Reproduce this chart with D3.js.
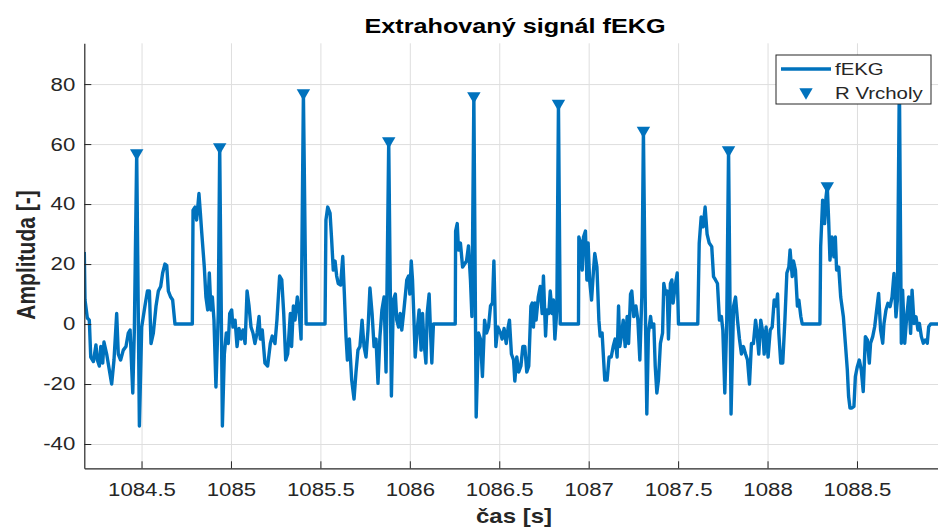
<!DOCTYPE html>
<html>
<head>
<meta charset="utf-8">
<script src="https://cdn.jsdelivr.net/npm/d3@7"></script>
<style>
    body { margin: 0; background: #fff; }
    svg { display: block; font-family: "Liberation Sans", Arial, sans-serif; }
</style>
</head>
<body>
<svg id="chart"></svg>
<script>
'use strict';

// signal: time [s] and amplitude
var sigT = [
    1084.180, 1084.184, 1084.197, 1084.208, 1084.216, 1084.231, 1084.245, 1084.253, 1084.264, 1084.272,
    1084.283, 1084.290, 1084.305, 1084.333, 1084.346, 1084.361, 1084.370, 1084.383, 1084.398, 1084.413,
    1084.426, 1084.436, 1084.451, 1084.460, 1084.473, 1084.488, 1084.501, 1084.519, 1084.533, 1084.544,
    1084.553, 1084.566, 1084.581, 1084.594, 1084.607, 1084.618, 1084.631, 1084.641, 1084.650, 1084.663,
    1084.674, 1084.687, 1084.784,
    1084.788, 1084.799, 1084.808, 1084.821, 1084.829, 1084.836, 1084.851, 1084.860, 1084.870, 1084.879,
    1084.888, 1084.896, 1084.905, 1084.916, 1084.929, 1084.937, 1084.952, 1084.963, 1084.974, 1084.985,
    1084.993, 1085.004, 1085.011, 1085.023, 1085.034, 1085.045, 1085.056, 1085.067, 1085.079, 1085.090,
    1085.101, 1085.112, 1085.123, 1085.134, 1085.146, 1085.157, 1085.164, 1085.175, 1085.190, 1085.205,
    1085.220, 1085.231, 1085.246, 1085.257, 1085.272, 1085.284, 1085.295, 1085.306, 1085.317, 1085.332,
    1085.339, 1085.349, 1085.358, 1085.371, 1085.382, 1085.392, 1085.405, 1085.420, 1085.526, 1085.531,
    1085.541, 1085.554, 1085.563, 1085.572, 1085.582, 1085.591, 1085.600, 1085.613, 1085.625, 1085.634,
    1085.643, 1085.651, 1085.662, 1085.675, 1085.688, 1085.699, 1085.710, 1085.721, 1085.733, 1085.744,
    1085.755, 1085.766, 1085.777, 1085.789, 1085.800, 1085.811, 1085.822, 1085.833, 1085.844, 1085.856,
    1085.867, 1085.882, 1085.897, 1085.908, 1085.919,
    1085.927, 1085.937, 1085.946, 1085.955, 1085.965, 1085.974, 1085.983, 1085.993, 1086.000, 1086.008,
    1086.015, 1086.022, 1086.030, 1086.041, 1086.052, 1086.063, 1086.071, 1086.078, 1086.090, 1086.097,
    1086.108, 1086.116, 1086.123, 1086.132, 1086.254, 1086.256, 1086.265, 1086.272, 1086.283, 1086.295,
    1086.306, 1086.317, 1086.328, 1086.339, 1086.347, 1086.358, 1086.371, 1086.384, 1086.395, 1086.406,
    1086.418, 1086.429, 1086.440, 1086.451, 1086.462, 1086.470, 1086.481, 1086.492, 1086.507,
    1086.516, 1086.527, 1086.539, 1086.550, 1086.557, 1086.568, 1086.580, 1086.587, 1086.598, 1086.609,
    1086.621, 1086.632, 1086.643, 1086.654, 1086.665, 1086.677, 1086.684, 1086.691, 1086.699, 1086.706,
    1086.718, 1086.729, 1086.740, 1086.747, 1086.759, 1086.766, 1086.777, 1086.785, 1086.796, 1086.803,
    1086.811, 1086.822, 1086.831, 1086.841, 1086.943, 1086.945, 1086.956, 1086.964, 1086.971, 1086.982,
    1086.990, 1086.997, 1087.005, 1087.016, 1087.027, 1087.034, 1087.046, 1087.057, 1087.064, 1087.075,
    1087.090,
    1087.103, 1087.114, 1087.126, 1087.137, 1087.148, 1087.159, 1087.167, 1087.174, 1087.185, 1087.193,
    1087.204, 1087.215, 1087.223, 1087.234, 1087.241, 1087.252, 1087.264, 1087.275, 1087.286, 1087.297,
    1087.306, 1087.316, 1087.325, 1087.334, 1087.346, 1087.353, 1087.364, 1087.372, 1087.381, 1087.390,
    1087.401, 1087.413, 1087.420, 1087.431, 1087.439, 1087.446, 1087.457, 1087.465, 1087.472, 1087.483,
    1087.495, 1087.502, 1087.610, 1087.618, 1087.629, 1087.640, 1087.651, 1087.662, 1087.674,
    1087.688, 1087.698, 1087.709, 1087.720, 1087.731, 1087.742, 1087.750, 1087.761, 1087.772, 1087.782,
    1087.796, 1087.810, 1087.821, 1087.832, 1087.843, 1087.854, 1087.865, 1087.877, 1087.888, 1087.899,
    1087.910, 1087.921, 1087.933, 1087.940, 1087.951, 1087.962, 1087.974, 1087.981, 1087.992, 1088.003,
    1088.015, 1088.026, 1088.037, 1088.048, 1088.056, 1088.063, 1088.074, 1088.085, 1088.097, 1088.108,
    1088.119, 1088.126, 1088.138, 1088.145, 1088.156, 1088.167, 1088.175, 1088.186, 1088.194, 1088.293,
    1088.297, 1088.308, 1088.319, 1088.327, 1088.334, 1088.342, 1088.349, 1088.360, 1088.371, 1088.379,
    1088.386, 1088.398, 1088.409, 1088.424, 1088.435, 1088.446, 1088.453, 1088.461, 1088.472, 1088.483,
    1088.491, 1088.502, 1088.513, 1088.524, 1088.535, 1088.547, 1088.558, 1088.569, 1088.576, 1088.588,
    1088.599, 1088.610, 1088.621, 1088.632, 1088.644, 1088.651, 1088.662, 1088.673, 1088.685, 1088.696,
    1088.707, 1088.718, 1088.726, 1088.737, 1088.748, 1088.755, 1088.767, 1088.778, 1088.789, 1088.800,
    1088.808, 1088.819, 1088.830, 1088.841, 1088.849, 1088.860, 1088.871, 1088.882, 1088.893, 1088.901,
    1088.912, 1088.960
];
var sigV = [
    24, 8, 2, 1.3, -11, -12.5, -7, -12, -14, -7.5,
    -13, -6, -10, -20, -12, 3.5, -10, -12, -8.7, -7.5,
    -3, -2, -23, -1.5, 57, -34, -1, 6, 11, 11,
    -6.5, -3, 6, 11, 12.5, 17, 20, 19.5, 11, 9,
    8, 0, 0,
    38, 39, 34.7, 43.5, 37, 31, 19, 9, 4.7, 17,
    4.7, 9, 1.3, -21, 3.5, 59, -34, -10, -3, -6.5,
    3.5, 4.7, -1, 1.3, -7.5, -1.5, -5, -2, -6.5, 11,
    6, -1, -3, -6.5, -3, 2.5, -5, -2, -13, -14,
    -6.5, -4, -6.5, 1.3, 16, 14.7, 3.5, -12, -10, 3.5,
    -7.5, 6, 1.3, 9, 3.5, -5, 77, 0, 0, 34.7,
    39, 37, 28, 18, 21, 16, 13.5, 13, 22.5, 10,
    -4, -12, -5, -18.7, -25, -16, -8.7, -7.5, 1.3, -7.5,
    -11, -2, 12, 3.5, -7.5, -5, -19.8, -4, 4.7, 9,
    -16, 61, -24, 8, 10,
    1.3, -1, 3.5, -2, 3.5, 9, 14.7, 16, 10, 21,
    14.7, 3.5, -11, -2, 4.7, -8.7, 3.5, -5, -13, 3.5,
    10, -3, -13, 0, 0, 31, 33.5, 24.7, 27, 19,
    20, 21, 26, 14.7, 2.5, 76, -31, -3, -5, -17.5,
    1.3, -3, -1, 6, 7, 21, -7.5, -1, -3,
    -5, -1.5, -6.5, -1, 1.3, -10, -12, -19, -11, -16,
    -14, -7.5, -7.5, -16, -14, 6, 7, -1, 7, 1.3,
    9, 12.5, 3.5, 16, -4, 4.7, 3.5, 11, 3.5, 8,
    -5, 4.7, 73.5, 0, 0, 29, 27, 18, 29, 31,
    14.7, 27, 14.7, 8, 18, 23.5, 19, 1.3, -4, -3,
    -18.7,
    -18.7, -11, -11, -7.5, -5, -11, 6, -7.5, -3, 1.3,
    -7.5, 2.5, -6.5, 10, 11, 2.5, 6, 1.3, -12, 9,
    64.5, 9, -30, -3, 2.5, -1, 0, -14, -23, -18.7,
    -6.5, -3, 13.5, 10, 11, -5, 13.5, 14.7, 7, 12.5,
    17, 0, 0, 27, 35.7, 32.4, 39, 30, 27,
    25.8, 15.8, 14.7, 13.5, 1.3, 2.5, -2, -23, 1.3, 58,
    -30, 6, 9, 1.3, -5, -10, -7.5, -10, -12, -20,
    -6.5, -6.5, 1.3, -2, -10, 1.3, -3, -10, -1, -11,
    -2, -1, 8, 6, 10, -3, -13, -13, 1.3, 17,
    19, 24.7, 15.8, 21, 18, 6, 8, 2.5, 0, 0,
    25.8, 41.3, 33.5, 42.4, 46, 34, 21.3, 29, 22.4, 29,
    18, 19, 9, 2.4, -6.4, -15.3, -24, -28, -28, -27.5,
    -17.5, -14.2, -12, -15.3, -22.5, -4.2, -5.3, -13, -6.4, -4.2,
    -0.9, 4.7, 10.2, -2, -6.4, 0.2, 4.7, 6.9, 5.8, 9,
    16.9, 2.4, 8, 82, -6.4, 11.3, -6.4, 2.4, 9, -3.1,
    11.3, 0.2, 2.4, -2, 0.2, -4.2, -6.4, -5.3, -6.4, -0.9,
    0, 0
];

// detected R peaks
var peakT = [1084.473, 1084.937, 1085.405, 1085.882, 1086.358, 1086.831, 1087.306, 1087.782, 1088.334];
var peakV = [57, 59, 77, 61, 76, 73.5, 64.5, 58, 46];

var xTicks = [1084.5, 1085, 1085.5, 1086, 1086.5, 1087, 1087.5, 1088, 1088.5];
var xTickLabels = ['1084.5', '1085', '1085.5', '1086', '1086.5', '1087', '1087.5', '1088', '1088.5'];
var yTicks = [-40, -20, 0, 20, 40, 60, 80];
var yTickLabels = ['-40', '-20', '0', '20', '40', '60', '80'];
var seriesNames = ['fEKG', 'R Vrcholy'];

(function () {

    var width = 938;
    var height = 529;
    var left = 84.3, right = 938, top = 43.3, bottom = 468.3;
    var stretch = 1.2;             // picture is a bit wider than tall
    var blue = '#0072bd';
    var ink = '#262626';

    var svg = d3.select('#chart')
        .attr('width', width)
        .attr('height', height);

    var x = d3.scaleLinear().domain([1084.18, 1088.953]).range([left, right]);
    var y = d3.scaleLinear().domain([-48.1, 93.6]).range([bottom, top]);

    svg.append('defs').append('clipPath')
        .attr('id', 'plotClip')
        .append('rect')
        .attr('x', left).attr('y', top)
        .attr('width', right - left).attr('height', bottom - top);

    // grid
    svg.append('g')
        .attr('transform', 'translate(0,' + bottom + ')')
        .call(d3.axisBottom(x).tickValues(xTicks).tickSize(-(bottom - top)).tickFormat(''))
        .call(function (g) {
            g.select('.domain').remove();
            g.selectAll('line').attr('stroke', '#dedede').attr('stroke-width', 1);
        });

    svg.append('g')
        .attr('transform', 'translate(' + left + ',0)')
        .call(d3.axisLeft(y).tickValues(yTicks).tickSize(-(right - left)).tickFormat(''))
        .call(function (g) {
            g.select('.domain').remove();
            g.selectAll('line').attr('stroke', '#dedede').attr('stroke-width', 1);
        });

    // signal
    var points = sigT.map(function (t, i) { return [t, sigV[i]]; });

    var line = d3.line()
        .x(function (d) { return x(d[0]); })
        .y(function (d) { return y(d[1]); });

    svg.append('path')
        .datum(points)
        .attr('clip-path', 'url(#plotClip)')
        .attr('fill', 'none')
        .attr('stroke', blue)
        .attr('stroke-width', 3.4)
        .attr('stroke-linejoin', 'round')
        .attr('d', line);

    // peak markers
    var tri = d3.symbol().type(d3.symbolTriangle).size(78);

    svg.append('g').selectAll('path')
        .data(peakT)
        .enter()
        .append('path')
        .attr('d', tri)
        .attr('fill', blue)
        .attr('transform', function (d, i) {
            return 'translate(' + x(d) + ',' + y(peakV[i]) + ') rotate(180)';
        });

    // axes
    var xAxis = svg.append('g')
        .attr('transform', 'translate(0,' + bottom + ')')
        .call(d3.axisBottom(x).tickValues(xTicks).tickSizeInner(-7).tickSizeOuter(0)
            .tickFormat(function (d, i) { return xTickLabels[i]; }));

    var yAxis = svg.append('g')
        .attr('transform', 'translate(' + left + ',0)')
        .call(d3.axisLeft(y).tickValues(yTicks).tickSizeInner(-7).tickSizeOuter(0)
            .tickFormat(function (d, i) { return yTickLabels[i]; }));

    [xAxis, yAxis].forEach(function (g) {
        g.select('.domain').attr('stroke', ink).attr('stroke-width', 1.2);
        g.selectAll('.tick line').attr('stroke', ink).attr('stroke-width', 1);
        g.selectAll('.tick text')
            .attr('fill', ink)
            .style('font-family', '"Liberation Sans", Arial, sans-serif')
            .style('font-size', '18.5px');
    });

    xAxis.selectAll('.tick text')
        .attr('y', 28)
        .attr('dy', '0')
        .attr('transform', 'scale(' + stretch + ',1)');

    yAxis.selectAll('.tick text')
        .attr('x', -9 / stretch)
        .attr('transform', 'scale(' + stretch + ',1)');

    // title and labels
    svg.append('text')
        .attr('transform', 'translate(515,33) scale(' + stretch + ',1)')
        .attr('text-anchor', 'middle')
        .style('font-size', '21px')
        .style('font-weight', 'bold')
        .attr('fill', '#000')
        .text('Extrahovaný signál fEKG');

    svg.append('text')
        .attr('transform', 'translate(514,523) scale(' + stretch + ',1)')
        .attr('text-anchor', 'middle')
        .style('font-size', '20px')
        .style('font-weight', 'bold')
        .attr('fill', ink)
        .text('čas [s]');

    svg.append('text')
        .attr('transform', 'translate(35,255) rotate(-90) scale(1,' + stretch + ')')
        .attr('text-anchor', 'middle')
        .style('font-size', '21px')
        .style('font-weight', 'bold')
        .attr('fill', ink)
        .text('Amplituda [-]');

    // legend
    var legend = svg.append('g');

    legend.append('rect')
        .attr('x', 776).attr('y', 55)
        .attr('width', 155).attr('height', 49)
        .attr('fill', '#fff')
        .attr('stroke', ink)
        .attr('stroke-width', 1);

    legend.append('line')
        .attr('x1', 781).attr('x2', 831)
        .attr('y1', 69).attr('y2', 69)
        .attr('stroke', blue)
        .attr('stroke-width', 3.4);

    legend.append('path')
        .attr('d', tri)
        .attr('fill', blue)
        .attr('transform', 'translate(806,92) rotate(180)');

    seriesNames.forEach(function (name, i) {
        legend.append('text')
            .attr('transform', 'translate(835,' + (69 + i * 24) + ') scale(' + stretch + ',1)')
            .attr('dy', '0.35em')
            .style('font-size', '17px')
            .attr('fill', ink)
            .text(name);
    });

})();
</script>
</body>
</html>
